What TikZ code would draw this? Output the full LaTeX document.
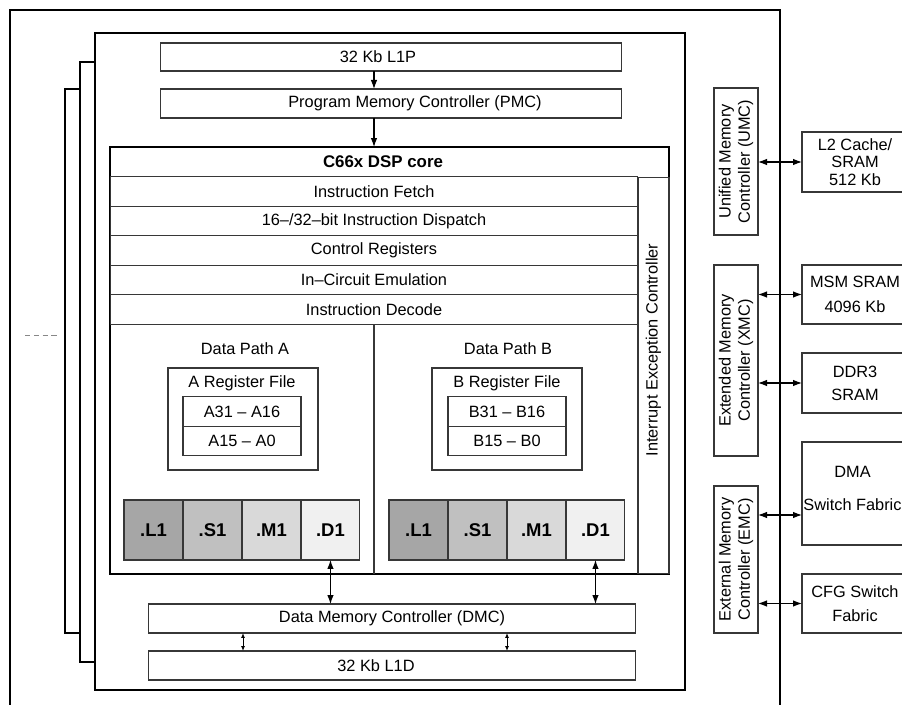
\documentclass[tikz,border=0pt]{standalone}
\usepackage{fontspec}
\setmainfont{Liberation Sans}
\usetikzlibrary{arrows.meta,positioning}
\definecolor{lineg}{RGB}{55,55,55}
\definecolor{unitl}{RGB}{166,166,166}
\definecolor{units}{RGB}{192,192,192}
\definecolor{unitm}{RGB}{217,217,217}
\definecolor{unitd}{RGB}{240,240,240}

\begin{document}
\begin{tikzpicture}[
    x=0.02cm, y=-0.02cm,
    every node/.style={font=\fontsize{9.3}{11}\selectfont},
    node distance=0pt,
    frame/.style={draw=black,line width=1.2pt},
    blk/.style={rectangle,draw=lineg,line width=0.6pt,outer sep=0pt,inner sep=0pt,align=center},
    row/.style={blk,minimum width=10.56cm,minimum height=0.59cm},
    reg/.style={blk,minimum width=2.36cm,minimum height=0.59cm},
    fu/.style={blk,minimum width=1.18cm,minimum height=1.2cm,font=\fontsize{10.5}{12}\selectfont\bfseries},
    ctrl/.style={blk,rotate=90,minimum height=0.88cm},
    mem/.style={blk,minimum width=2.12cm},
    arrow/.style={-{Latex[length=1.8mm,width=1.3mm]},line width=0.6pt},
    dbl/.style={{Latex[length=1.8mm,width=1.3mm]}-{Latex[length=1.8mm,width=1.3mm]},line width=0.6pt},
    tinydbl/.style={{Latex[length=1mm,width=0.8mm]}-{Latex[length=1mm,width=0.8mm]},line width=0.5pt}
  ]
    \useasboundingbox (0,0) rectangle (902,705);
    \clip (0,0) rectangle (902,705);

    % chip frame and stacked cores
    \draw[frame] (10,705) -- (10,10) -- (780,10) -- (780,705);
    \draw[frame] (80,89) -- (65,89) -- (65,633) -- (80,633);
    \draw[frame] (95,62) -- (80,62) -- (80,662) -- (95,662);
    \node[frame,minimum width=11.8cm,minimum height=13.14cm,outer sep=0pt] (chip) at (390,361.5) {};
    \draw[lineg!60,dash pattern=on 3pt off 2pt] (25,335) -- (58,335);

    \node[blk,minimum width=9.24cm,minimum height=0.56cm,
      label={[xshift=-0.26cm]center:32 Kb L1P}] (l1p) at (391,57) {};
    \node[blk,minimum width=9.24cm,minimum height=0.58cm,
      label={[xshift=0.48cm]center:Program Memory Controller (PMC)}] (pmc) at (391,103.5) {};

    \node[blk,draw=black,line width=1.4pt,minimum width=11.18cm,minimum height=8.54cm] (core) at (389.5,360.5) {};
    \node[font=\fontsize{9.6}{11}\selectfont\bfseries] (coretitle) at (383,162) {C66x DSP core};
    \node[row] (fetch) at (374,191.5) {Instruction Fetch};
    \node[row,below=of fetch] (dispatch) {16–/32–bit Instruction Dispatch};
    \node[row,below=of dispatch] (ctrlreg) {Control Registers};
    \node[row,below=of ctrlreg] (ice) {In–Circuit Emulation};
    \node[row,below=of ice] (decode) {Instruction Decode};
    \node[blk,minimum width=0.62cm,minimum height=7.94cm] (iec) at (653.5,375.5) {};
    \node[rotate=90] (iectext) at ([yshift=0.51cm]iec.center) {Interrupt Exception Controller};
    \coordinate (split) at (decode.south);
    \draw[lineg,line width=0.6pt] (split) -- (split |- core.south);

    \draw[arrow] (l1p.south -| split) -- (pmc.north -| split);
    \draw[arrow] (pmc.south -| split) -- (core.north -| split);

    \node (dpa) at (245,349) {Data Path A};
    \node (dpb) at (508,349) {Data Path B};
    \node[blk,minimum width=3cm,minimum height=2.04cm] (rfa) at (243,419) {};
    \node (rfatitle) at (242,383) {A Register File};
    \node[reg] (ahi) at (242,411.5) {A31 – A16};
    \node[reg,below=of ahi] (alo) {A15 – A0};
    \node[blk,minimum width=3cm,minimum height=2.04cm] (rfb) at (507,419) {};
    \node (rfbtitle) at (507,383) {B Register File};
    \node[reg] (bhi) at (507,411.5) {B31 – B16};
    \node[reg,below=of bhi] (blo) {B15 – B0};

    \node[fu,fill=unitl] (la) at (153.5,530) {.L1};
    \node[fu,fill=units,right=of la] (sa) {.S1};
    \node[fu,fill=unitm,right=of sa] (ma) {.M1};
    \node[fu,fill=unitd,right=of ma] (da) {.D1};
    \node[fu,fill=unitl] (lb) at (418.5,530) {.L1};
    \node[fu,fill=units,right=of lb] (sb) {.S1};
    \node[fu,fill=unitm,right=of sb] (mb) {.M1};
    \node[fu,fill=unitd,right=of mb] (db) {.D1};

    \node[blk,minimum width=9.76cm,minimum height=0.58cm] (dmc) at (392,618.5) {Data Memory Controller (DMC)};
    \node[blk,minimum width=9.76cm,minimum height=0.58cm,
      label={[xshift=-0.32cm]center:32 Kb L1D}] (l1d) at (392,665.5) {};
    \draw[dbl] (da.south) -- (da.south |- dmc.north);
    \draw[dbl] (db.south) -- (db.south |- dmc.north);
    \draw[tinydbl] (rfa.center |- dmc.south) -- (rfa.center |- l1d.north);
    \draw[tinydbl] (rfb.center |- dmc.south) -- (rfb.center |- l1d.north);

    % memory controllers and external memories
    \node[ctrl,minimum width=2.94cm] (umc) at (736,161.5) {Unified Memory\\Controller (UMC)};
    \node[ctrl,minimum width=3.82cm] (xmc) at (736,360.5) {Extended Memory\\Controller (XMC)};
    \node[ctrl,minimum width=2.94cm] (emc) at (736,559.5) {External Memory\\Controller (EMC)};

    \node[mem,minimum height=1.2cm,font=\fontsize{9.3}{9.8}\selectfont] (l2) at (855,162) {L2 Cache/\\SRAM\\512 Kb};
    \node[mem,minimum height=1.18cm] (msm) at (855,294.5) {MSM SRAM\\[3pt]4096 Kb};
    \node[mem,minimum height=1.2cm] (ddr) at (855,383) {DDR3\\[2pt]SRAM};
    \node[mem,minimum height=2.06cm] (dma) at (855,493.5) {};
    \node[align=center] (dmatext) at ([xshift=-0.05cm,yshift=0.1cm]dma.center) {DMA\\[8pt]Switch Fabric};
    \node[mem,minimum height=1.18cm] (cfg) at (855,603.5) {CFG Switch\\[3pt]Fabric};
    \coordinate (dmain) at ([yshift=-0.43cm]dma.west);

    \draw[dbl] (umc.south |- l2) -- (l2.west);
    \draw[dbl] (xmc.south |- msm) -- (msm.west);
    \draw[dbl] (xmc.south |- ddr) -- (ddr.west);
    \draw[dbl] (emc.south |- dmain) -- (dmain);
    \draw[dbl] (emc.south |- cfg) -- (cfg.west);
  \end{tikzpicture}
\end{document}
